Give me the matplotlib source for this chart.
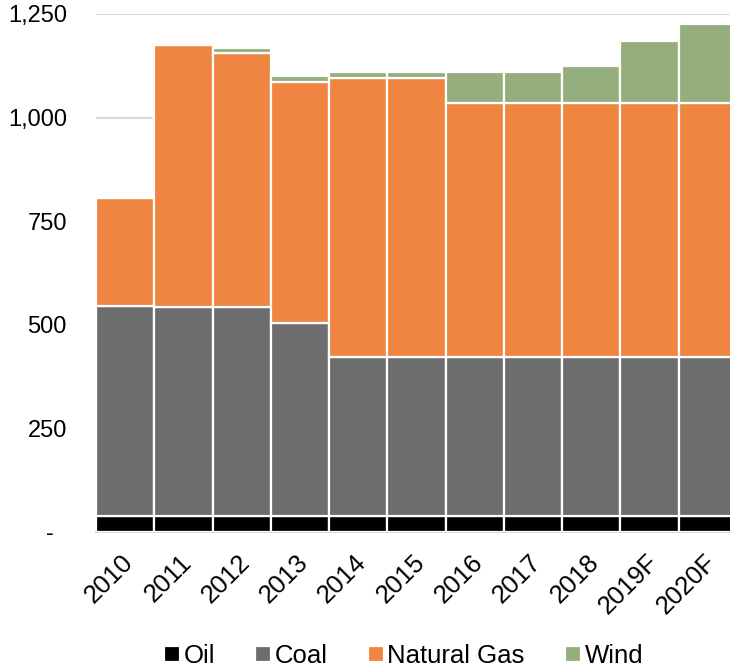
import matplotlib
matplotlib.use("Agg")
import matplotlib.pyplot as plt
import matplotlib.transforms as mtransforms
import numpy as np

years = ["2010", "2011", "2012", "2013", "2014", "2015", "2016", "2017", "2018", "2019F", "2020F"]
oil = [38, 38, 38, 38, 38, 38, 38, 38, 38, 38, 38]
coal = [508, 506, 506, 466, 385, 385, 385, 385, 385, 385, 385]
gas = [261, 631, 611, 581, 672, 672, 612, 612, 612, 612, 612]
wind = [0, 0, 14, 15, 15, 15, 75, 75, 90, 150, 191]
yticks = [0, 250, 500, 750, 1000, 1250]
ytick_labels = ["-  ", "250", "500", "750", "1,000", "1,250"]

plt.rcParams['font.family'] = ['Liberation Sans', 'DejaVu Sans']

fig = plt.figure(figsize=(7.30, 6.69), dpi=100)
W, H = 730, 669
left, right, bottom, top = 96, 737, 532, 14
ax = fig.add_axes([left / W, 1 - bottom / H, (right - left) / W, (bottom - top) / H])

x = np.arange(len(years))
series = [("Oil", oil, "#000000"), ("Coal", coal, "#6d6d6d"),
          ("Natural Gas", gas, "#ef8540"), ("Wind", wind, "#95ae7e")]
base = np.zeros(len(years))
for name, vals, col in series:
    v = np.array(vals, dtype=float)
    ax.bar(x, v, bottom=base, width=1.0, color=col, edgecolor="white",
           linewidth=1.6, label=name, zorder=3)
    base += v

ax.set_xlim(-0.5, len(years) - 0.5)
ax.set_ylim(0, 1250)
ax.set_yticks(yticks)
ax.set_yticklabels(ytick_labels, fontsize=17)
ax.yaxis.grid(True, color="#d9d9d9", linewidth=1.5, zorder=0)
ax.set_axisbelow(True)
ax.tick_params(axis="y", length=0, pad=21)
ax.set_xticks(x)
ax.set_xticklabels(years, fontsize=18.5, rotation=45, ha="right", va="top",
                   rotation_mode="anchor")
ax.tick_params(axis="x", length=0, pad=13)
offset = mtransforms.ScaledTranslation(-4 / 100, 0, fig.dpi_scale_trans)
for lab in ax.get_xticklabels():
    lab.set_transform(lab.get_transform() + offset)
for s in ["top", "right", "left"]:
    ax.spines[s].set_visible(False)
ax.spines["bottom"].set_color("#d9d9d9")
ax.spines["bottom"].set_linewidth(1.5)

fig.legend(loc="center", bbox_to_anchor=(403.5 / W, 1 - 656 / H), ncol=4, frameon=False,
           fontsize=18.5, handlelength=0.62, handleheight=0.6, handletextpad=0.15,
           columnspacing=1.55, borderpad=0)

fig.savefig("out.png", dpi=100)
